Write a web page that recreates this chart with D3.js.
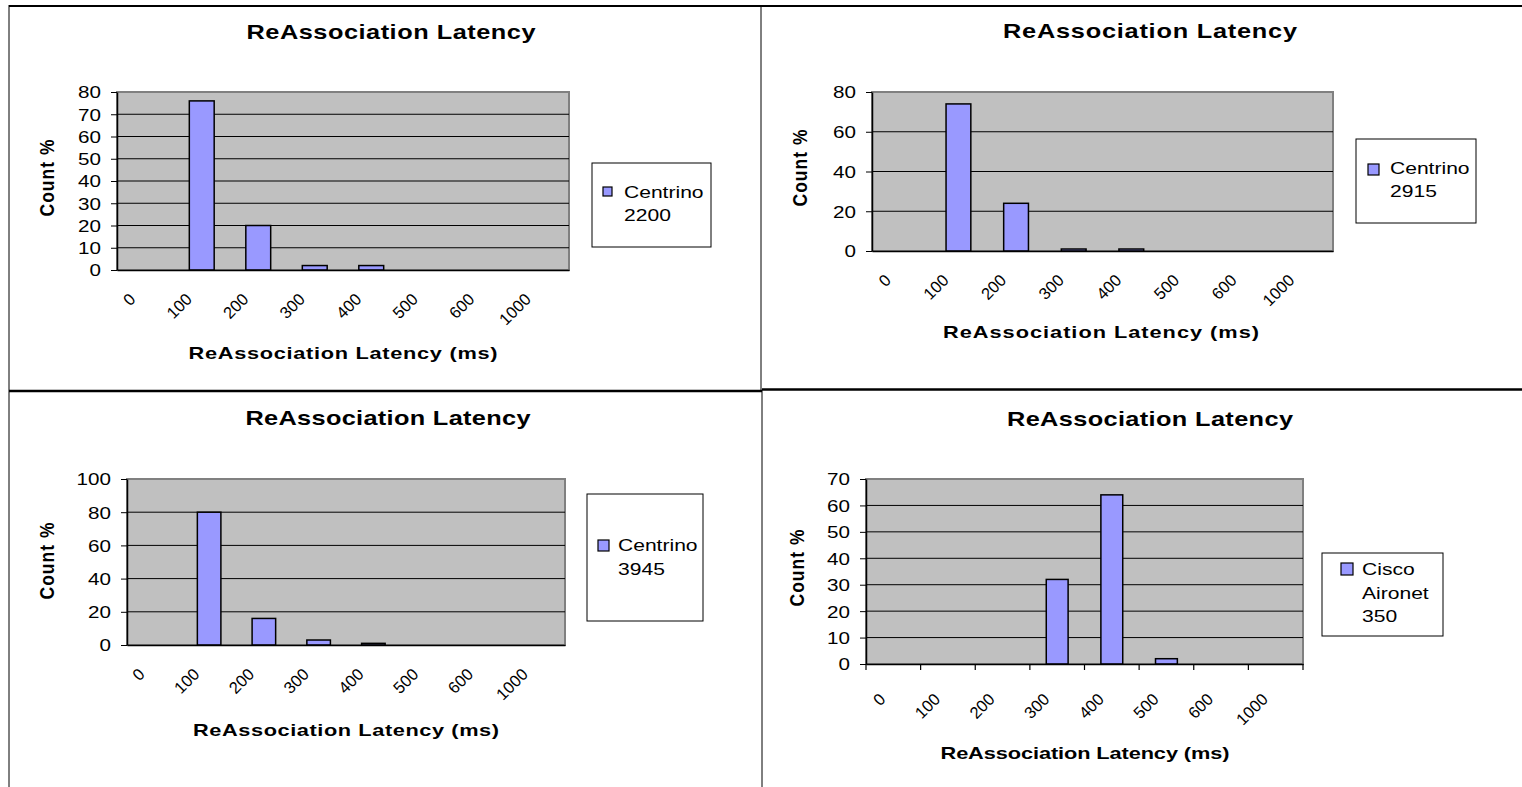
<!DOCTYPE html>
<html>
<head>
<meta charset="utf-8">
<title>ReAssociation Latency</title>
<script src="https://cdn.jsdelivr.net/npm/d3@7"></script>
<style>
  html, body { margin: 0; padding: 0; background: #ffffff; }
  svg { display: block; font-family: "Liberation Sans", Arial, sans-serif; }
</style>
</head>
<body>
<svg id="chart" width="1522" height="787"></svg>
<script>
// Latency bins (ms) shared by all four histograms
const categories = ["0", "100", "200", "300", "400", "500", "600", "1000"];

// Share of reassociations per bin (%) for each adapter
const centrino2200 = [0, 76, 20, 2, 2, 0, 0, 0];
const centrino2915 = [0, 74, 24, 1, 1, 0, 0, 0];
const centrino3945 = [0, 80, 16, 3, 1, 0, 0, 0];
const aironet350   = [0, 0, 0, 32, 64, 2, 0, 0];

// Y tick labels for each histogram
const ticks2200 = [0, 10, 20, 30, 40, 50, 60, 70, 80];
const ticks2915 = [0, 20, 40, 60, 80];
const ticks3945 = [0, 20, 40, 60, 80, 100];
const ticks350  = [0, 10, 20, 30, 40, 50, 60, 70];

// Legend entries (one line per array item)
const legend2200 = ["Centrino", "2200"];
const legend2915 = ["Centrino", "2915"];
const legend3945 = ["Centrino", "3945"];
const legend350  = ["Cisco", "Aironet", "350"];

const chartTitle = "ReAssociation Latency";
const xAxisTitle = "ReAssociation Latency (ms)";
const yAxisTitle = "Count %";

// Page layout of the four panels
const panels = [
  { values: centrino2200, ticks: ticks2200, legend: legend2200,
    plot: { x0: 117, x1: 569, y0: 92, y1: 270 }, pad: 0.56, xTicks: false, lab: { dx: -17, dy: 22 },
    title: { x: 391, y: 39, w: 289 }, xTitle: { x: 343, y: 359, w: 309 }, yTitle: { x: 47, y: 178 },
    box: { x: 592, y: 163, w: 119, h: 84 }, sw: { x: 603, y: 187, s: 9 }, lt: { x: 624, y: 198, lh: 23 } },
  { values: centrino2915, ticks: ticks2915, legend: legend2915,
    plot: { x0: 872, x1: 1333, y0: 92, y1: 251 }, pad: 0.57, xTicks: false, lab: { dx: -17, dy: 22 },
    title: { x: 1150, y: 38, w: 294 }, xTitle: { x: 1101, y: 338, w: 316 }, yTitle: { x: 800, y: 168 },
    box: { x: 1356, y: 139, w: 120, h: 84 }, sw: { x: 1368, y: 164, s: 11 }, lt: { x: 1390, y: 174, lh: 23 } },
  { values: centrino3945, ticks: ticks3945, legend: legend3945,
    plot: { x0: 127, x1: 565, y0: 479, y1: 645 }, pad: 0.57, xTicks: false, lab: { dx: -17, dy: 22 },
    title: { x: 388, y: 425, w: 285 }, xTitle: { x: 346, y: 736, w: 306 }, yTitle: { x: 47, y: 561 },
    box: { x: 587, y: 494, w: 116, h: 127 }, sw: { x: 598, y: 540, s: 11 }, lt: { x: 618, y: 551, lh: 24 } },
  { values: aironet350, ticks: ticks350, legend: legend350,
    plot: { x0: 866, x1: 1303, y0: 479, y1: 664 }, pad: 0.6, xTicks: true, lab: { dx: -15, dy: 28 },
    title: { x: 1150, y: 426, w: 286 }, xTitle: { x: 1085, y: 759, w: 289 }, yTitle: { x: 797, y: 568 },
    box: { x: 1322, y: 553, w: 121, h: 83 }, sw: { x: 1341, y: 563, s: 12 }, lt: { x: 1362, y: 575, lh: 23.5 } }
];

const BAR_FILL = "#9999ff";
const PLOT_FILL = "#c0c0c0";

const svg = d3.select("#chart");

// Table grid around the panels
const grid = svg.append("g").attr("fill", "none").attr("stroke", "#000");
grid.append("line").attr("x1", 9).attr("x2", 1522).attr("y1", 6).attr("y2", 6).attr("stroke-width", 2);
grid.append("line").attr("x1", 9).attr("x2", 9).attr("y1", 5).attr("y2", 787).attr("stroke-width", 1);
grid.append("line").attr("x1", 761).attr("x2", 761).attr("y1", 6).attr("y2", 390).attr("stroke-width", 1);
grid.append("line").attr("x1", 762).attr("x2", 762).attr("y1", 390).attr("y2", 787).attr("stroke-width", 1);
grid.append("line").attr("x1", 9).attr("x2", 762).attr("y1", 391).attr("y2", 391).attr("stroke-width", 2.5);
grid.append("line").attr("x1", 762).attr("x2", 1522).attr("y1", 389.5).attr("y2", 389.5).attr("stroke-width", 2.5);

function stretchedText(g, x, y, str, opts) {
  const t = g.append("text")
    .attr("transform", `translate(${x},${y}) scale(${opts.sx || 1},1)` + (opts.rotate ? ` rotate(${opts.rotate})` : ""))
    .attr("text-anchor", opts.anchor || "middle")
    .attr("font-size", opts.size)
    .attr("font-weight", opts.weight || "normal")
    .attr("fill", "#000")
    .text(str);
  if (opts.dy) t.attr("dy", opts.dy);
  if (opts.length) t.attr("textLength", opts.length).attr("lengthAdjust", "spacing");
  return t;
}

panels.forEach(p => {
  const g = svg.append("g");
  const { x0, x1, y0, y1 } = p.plot;

  const x = d3.scaleBand().domain(categories).range([x0, x1])
    .paddingInner(p.pad).paddingOuter(p.pad / 2);
  const y = d3.scaleLinear().domain([0, d3.max(p.ticks)]).range([y1, y0]);

  // Plot area
  g.append("rect")
    .attr("x", x0).attr("y", y0).attr("width", x1 - x0).attr("height", y1 - y0)
    .attr("fill", PLOT_FILL).attr("stroke", "#808080").attr("stroke-width", 2);

  // Horizontal gridlines
  g.append("g").selectAll("line")
    .data(p.ticks.filter(t => t > 0 && t < d3.max(p.ticks)))
    .join("line")
    .attr("x1", x0).attr("x2", x1)
    .attr("y1", d => y(d)).attr("y2", d => y(d))
    .attr("stroke", "#000").attr("stroke-width", 1);

  // Bars
  g.append("g").selectAll("rect")
    .data(categories.map((c, i) => ({ c, v: p.values[i] })).filter(d => d.v > 0))
    .join("rect")
    .attr("x", d => x(d.c))
    .attr("width", x.bandwidth())
    .attr("y", d => y(d.v))
    .attr("height", d => y(0) - y(d.v))
    .attr("fill", BAR_FILL)
    .attr("stroke", "#000").attr("stroke-width", 1.5);

  // Y axis
  const ya = g.append("g")
    .attr("transform", `translate(${x0},0)`)
    .call(d3.axisLeft(y).tickValues(p.ticks).tickSize(6).tickSizeOuter(0).tickFormat(d3.format("d")));
  ya.attr("font-family", null).attr("font-size", null);
  ya.select(".domain").attr("stroke", "#000").attr("stroke-width", 1.5);
  ya.selectAll(".tick line").attr("stroke", "#000");
  ya.selectAll(".tick text")
    .attr("x", 0).attr("dy", "0.36em")
    .attr("text-anchor", "end")
    .attr("font-size", 16.5)
    .attr("fill", "#000")
    .attr("transform", "translate(-16,0) scale(1.25,1)");

  // X axis with rotated bin labels
  const xa = g.append("g")
    .attr("transform", `translate(0,${y1})`)
    .call(d3.axisBottom(x).tickSize(0).tickSizeOuter(0));
  xa.attr("font-family", null).attr("font-size", null);
  xa.select(".domain").attr("stroke", "#000").attr("stroke-width", 1.5);
  xa.selectAll(".tick text")
    .attr("x", 0).attr("y", 0).attr("dy", "0.71em")
    .attr("text-anchor", "end")
    .attr("font-size", 16.5)
    .attr("fill", "#000")
    .attr("transform", `translate(${p.lab.dx},${p.lab.dy}) rotate(-45)`);

  if (p.xTicks) {
    const gap = (x.step() - x.bandwidth()) / 2;
    const bounds = categories.map(c => x(c) - gap).concat([x1]);
    g.append("g").selectAll("line").data(bounds).join("line")
      .attr("x1", d => d).attr("x2", d => d)
      .attr("y1", y1).attr("y2", y1 + 6)
      .attr("stroke", "#000").attr("stroke-width", 1.2);
  }

  // Titles
  stretchedText(g, p.title.x, p.title.y, chartTitle, { size: 19.5, weight: "bold", sx: 1.3, length: p.title.w / 1.3 });
  stretchedText(g, p.xTitle.x, p.xTitle.y, xAxisTitle, { size: 17, weight: "bold", sx: 1.28, length: p.xTitle.w / 1.28 });
  stretchedText(g, p.yTitle.x, p.yTitle.y, yAxisTitle, { size: 17.5, weight: "bold", sx: 1.15, rotate: -90, dy: "0.35em", length: 77 });

  // Legend
  g.append("rect")
    .attr("x", p.box.x).attr("y", p.box.y).attr("width", p.box.w).attr("height", p.box.h)
    .attr("fill", "#fff").attr("stroke", "#000").attr("stroke-width", 1);
  g.append("rect")
    .attr("x", p.sw.x).attr("y", p.sw.y).attr("width", p.sw.s).attr("height", p.sw.s)
    .attr("fill", BAR_FILL).attr("stroke", "#000").attr("stroke-width", 1.2);
  p.legend.forEach((line, i) => {
    stretchedText(g, p.lt.x, p.lt.y + i * p.lt.lh, line, { size: 17, anchor: "start", sx: 1.24 });
  });
});
</script>
</body>
</html>
